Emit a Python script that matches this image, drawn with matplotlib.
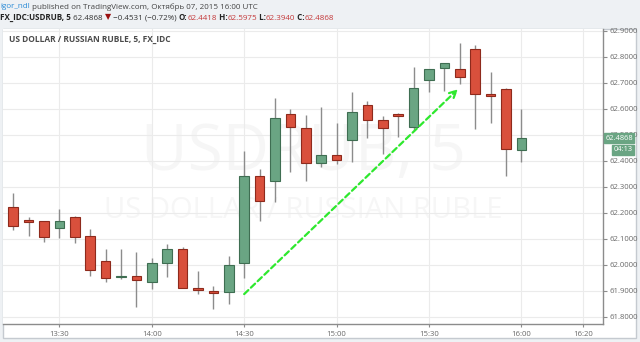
import matplotlib
matplotlib.use('Agg')
import matplotlib.pyplot as plt
from matplotlib.patches import Rectangle
import matplotlib.transforms as mtransforms

# ---------------- data ----------------
times = ["13:15", "13:20", "13:25", "13:30", "13:35", "13:40", "13:45", "13:50", "13:55",
         "14:00", "14:05", "14:10", "14:15", "14:20", "14:25", "14:30", "14:35", "14:40",
         "14:45", "14:50", "14:55", "15:00", "15:05", "15:10", "15:15", "15:20", "15:25",
         "15:30", "15:35", "15:40", "15:45", "15:50", "15:55", "16:00"]
opens = [62.223, 62.172, 62.168, 62.141, 62.185, 62.110, 62.015, 61.953, 61.957,
         61.933, 62.008, 62.060, 61.912, 61.899, 61.896, 62.005, 62.341, 62.321,
         62.580, 62.525, 62.392, 62.421, 62.480, 62.614, 62.557, 62.580, 62.531,
         62.710, 62.757, 62.753, 62.830, 62.658, 62.677, 62.4418]
highs = [62.275, 62.185, 62.170, 62.213, 62.187, 62.136, 62.060, 62.059, 62.048,
         62.027, 62.080, 62.069, 61.976, 61.918, 62.033, 62.438, 62.367, 62.642,
         62.598, 62.576, 62.608, 62.546, 62.665, 62.631, 62.572, 62.582, 62.759,
         62.752, 62.777, 62.854, 62.846, 62.740, 62.680, 62.5975]
lows = [62.133, 62.112, 62.086, 62.102, 62.082, 61.957, 61.932, 61.944, 61.838,
        61.905, 61.954, 61.910, 61.886, 61.830, 61.849, 61.948, 62.169, 62.240,
        62.358, 62.323, 62.375, 62.386, 62.396, 62.486, 62.426, 62.490, 62.518,
        62.664, 62.669, 62.695, 62.522, 62.544, 62.342, 62.3940]
closes = [62.149, 62.163, 62.105, 62.168, 62.105, 61.980, 61.948, 61.958, 61.941,
          62.008, 62.060, 61.910, 61.902, 61.892, 61.999, 62.340, 62.244, 62.563,
          62.528, 62.392, 62.421, 62.401, 62.588, 62.557, 62.525, 62.572, 62.681,
          62.752, 62.775, 62.721, 62.658, 62.650, 62.444, 62.4868]

x_tick_labels = ["13:30", "14:00", "14:30", "15:00", "15:30", "16:00", "16:20"]
y_ticks = [61.8, 61.9, 62.0, 62.1, 62.2, 62.3, 62.4, 62.5, 62.6, 62.7, 62.8, 62.9]

arrow_start = ("14:30", 61.887)
arrow_end = ("15:39", 62.675)

last_price = 62.4868
countdown = "04:13"

title = "US DOLLAR / RUSSIAN RUBLE, 5, FX_IDC"
watermark_big = "USDRUB, 5"
watermark_small = "US DOLLAR / RUSSIAN RUBLE"


def tmin(s):
    h, m = s.split(":")
    return int(h) * 60 + int(m) - (13 * 60 + 30)


# ---------------- figure ----------------
W, H = 640, 342
fig = plt.figure(figsize=(W / 100, H / 100), dpi=100, facecolor='#eef1f4')
FONT = ['Open Sans', 'DejaVu Sans']

panel = Rectangle((3 / W, 1 - 338 / H), (636 - 3) / W, (338 - 29) / H,
                  transform=fig.transFigure, facecolor='white',
                  edgecolor='#c5cad0', lw=1.0, zorder=-10)
fig.patches.append(panel)

ax = fig.add_axes([3 / W, 1 - 324 / H, 600 / W, (324 - 29) / H])
ax.set_zorder(1)
ax.set_facecolor('white')
ax.set_xlim(-18.3, 176.5)
ax.set_ylim(61.772, 62.9065)

# watermark
ax.text(0.5, 0.58, watermark_big, transform=ax.transAxes, ha='center', va='center',
        fontsize=46, color='#f6f6f6', family=FONT, zorder=0)
ax.text(0.5, 0.386, watermark_small, transform=ax.transAxes, ha='center', va='center',
        fontsize=21, color='#f6f6f6', family=FONT, zorder=0)

# grid
ax.set_xticks([tmin(s) for s in x_tick_labels])
ax.set_xticklabels(x_tick_labels)
ax.set_yticks(y_ticks)
ax.set_yticklabels(["%.4f" % v for v in y_ticks])
ax.grid(True, color='#ebebeb', lw=0.8, zorder=0)
ax.set_axisbelow(True)

# candles
wbody = 3.1
up_face, up_edge = '#6aa583', '#3f6e52'
dn_face, dn_edge = '#d9503c', '#8e2a1c'
for t, o, h, l, c in zip(times, opens, highs, lows, closes):
    x = tmin(t)
    ax.vlines(x, l, h, color='#8c8c8c', lw=1.0, zorder=2)
    up = c >= o
    bottom = min(o, c)
    height = max(abs(c - o), 0.004)
    ax.add_patch(Rectangle((x - wbody / 2, bottom), wbody, height,
                           facecolor=up_face if up else dn_face,
                           edgecolor=up_edge if up else dn_edge, lw=0.8, zorder=3))

# arrow
ax.annotate('', xy=(tmin(arrow_end[0]) + 0.4, arrow_end[1]),
            xytext=(tmin(arrow_start[0]), arrow_start[1]),
            arrowprops=dict(arrowstyle='->', color='#2ee82e', lw=1.6,
                            linestyle=(0, (2.6, 1.6)), mutation_scale=12,
                            shrinkA=0, shrinkB=0), zorder=4)

# axes styling
for s in ['left', 'top']:
    ax.spines[s].set_visible(False)
for s in ['right', 'bottom']:
    ax.spines[s].set_color('#8c8c8c')
    ax.spines[s].set_linewidth(1.0)
ax.yaxis.tick_right()
ax.tick_params(axis='y', length=3, width=0.8, color='#8c8c8c', labelsize=5.6,
               labelcolor='#6a6a6a', pad=1.5)
ax.tick_params(axis='x', length=2.5, width=0.8, color='#8c8c8c', labelsize=5.6,
               labelcolor='#6a6a6a', pad=2.5)
for lab in ax.get_xticklabels() + ax.get_yticklabels():
    lab.set_family(FONT)

# last price labels
trans = mtransforms.blended_transform_factory(fig.transFigure, ax.transData)
ax.text(619 / W, last_price, "%.4f" % last_price, transform=trans, ha='center', va='center',
        fontsize=5.4, color='white', family=FONT, zorder=6, clip_on=False,
        bbox=dict(boxstyle='square,pad=0.2', facecolor='#6aa583', edgecolor='#6aa583'))
price_off = last_price - (149.5 - 138.1) / 260
ax.text(623 / W, price_off, countdown, transform=trans, ha='center', va='center',
        fontsize=5.4, color='white', family=FONT, zorder=6, clip_on=False,
        bbox=dict(boxstyle='square,pad=0.2', facecolor='#6aa583', edgecolor='#6aa583'))

# chart title
fig.text(9 / W, 1 - 40 / H, title, ha='left', va='center', fontsize=6,
         fontweight='bold', color='#4a4a4a', family=FONT, zorder=5)

# header
renderer = fig.canvas.get_renderer()


def seq(parts, x0, y0, size):
    x = x0
    for s, color, weight in parts:
        t = fig.text(x / W, 1 - y0 / H, s, color=color, fontweight=weight, fontsize=size,
                     va='center', ha='left', family=FONT)
        bb = t.get_window_extent(renderer)
        x += bb.width


RED = '#c4393a'
DK = '#333333'
seq([("igor_ndl", '#2a8bd6', 'normal'),
     (" published on TradingView.com, Октябрь 07, 2015 16:00 UTC", '#444444', 'normal')],
    0, 7, 5.8)
seq([("FX_IDC:USDRUB, 5", '#222222', 'bold'),
     (" 62.4868 ", DK, 'normal'),
     ("▼", '#9a1010', 'normal'),
     (" −0.4531 (−0.72%) ", DK, 'normal'),
     ("O:", '#222222', 'bold'), ("62.4418", RED, 'normal'),
     (" H:", '#222222', 'bold'), ("62.5975", RED, 'normal'),
     (" L:", '#222222', 'bold'), ("62.3940", RED, 'normal'),
     (" C:", '#222222', 'bold'), ("62.4868", RED, 'normal')],
    0, 18, 5.8)

fig.savefig('out.png', dpi=100, facecolor=fig.get_facecolor())
